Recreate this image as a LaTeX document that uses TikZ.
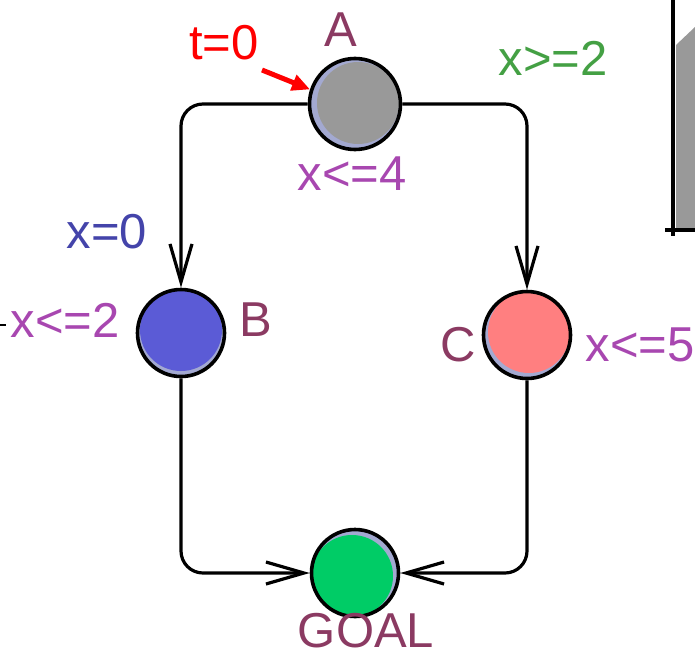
\documentclass[tikz,border=0pt]{standalone}
\usepackage{fontspec}
\setmainfont{Liberation Sans}
\usetikzlibrary{arrows.meta,calc}
\definecolor{shadelav}{HTML}{A3A9D1}
\definecolor{locgray}{HTML}{999999}
\definecolor{locblue}{HTML}{5B5BD6}
\definecolor{locred}{HTML}{FF7F80}
\definecolor{locgreen}{HTML}{00CC66}
\definecolor{namecol}{HTML}{8B3A62}
\definecolor{invcol}{HTML}{A847B0}
\definecolor{assigncol}{HTML}{4444AA}
\definecolor{guardcol}{HTML}{44A044}
\tikzset{
  loc/.style n args={3}{circle, draw=black, line width=1.8pt, fill=shadelav,
    inner sep=0pt, minimum size=87pt*0.5,
    path picture={\fill[#1] ($(path picture bounding box.center)+(#2pt,#3pt)$) circle (20.5pt);}},
  edge/.style={line width=1.6pt, rounded corners=11pt, -{Straight Barb[length=19pt,width=11pt,line width=1.6pt]}},
  lbl/.style={inner sep=0pt, anchor=center}
}
\begin{document}
\begin{tikzpicture}[x=0.5pt, y=-0.5pt, font=\fontsize{24.5}{29}\selectfont, line join=round]
  \useasboundingbox (0,0) rectangle (695,653);
  % --- locations ---
  \node[loc={locgray}{1.5}{0.5}, minimum size=45.5pt] (A) at (355,104) {};
  \node[loc={locblue}{0}{1.5}] (B) at (181,333) {};
  \node[loc={locred}{1}{1.5}] (C) at (527,335) {};
  \node[loc={locgreen}{-1.5}{-1.5}] (GOAL) at (355,573) {};
  % --- names and invariants ---
  \node[lbl, namecol] (nA) at (341,30) {A};
  \node[lbl, namecol] (nB) at (256,320) {B};
  \node[lbl, namecol] (nC) at (458,345) {C};
  \node[lbl, namecol] (nGOAL) at (366,631) {GOAL};
  \node[lbl, invcol] (iA) at (352,174) {x<=4};
  \node[lbl, invcol] (iB) at (65,320) {x<=2};
  \node[lbl, invcol] (iC) at (640,345) {x<=5};
  % --- edges ---
  \draw[edge] (A.west) -| (B.north);
  \draw[edge] (A.east) -| (C.north);
  \draw[edge] (B.south) |- (GOAL.west);
  \draw[edge] (C.south) |- (GOAL.east);
  \node[lbl, assigncol] (upd) at (107,232) {x=0};
  \node[lbl, guardcol] (grd) at (553,58) {x>=2};
  % --- initial marker ---
  \node[lbl, red] (init) at (224,43) {t=0};
  \coordinate (inittail) at (262,70);
  \draw[red, line width=2.5pt, -{Triangle[length=9pt,width=8pt]}] (inittail) -- (A.162);
  % --- cut-off parts at the borders ---
  \fill[locgray] (676,45) -- (695,27) -- (695,228) -- (676,228) -- cycle;
  \draw[line width=1.6pt] (673,0) -- (673,236);
  \draw[line width=1.6pt] (665,230) -- (695,230);
  \draw[line width=0.6pt] (0,325) -- (6,325);
\end{tikzpicture}
\end{document}
